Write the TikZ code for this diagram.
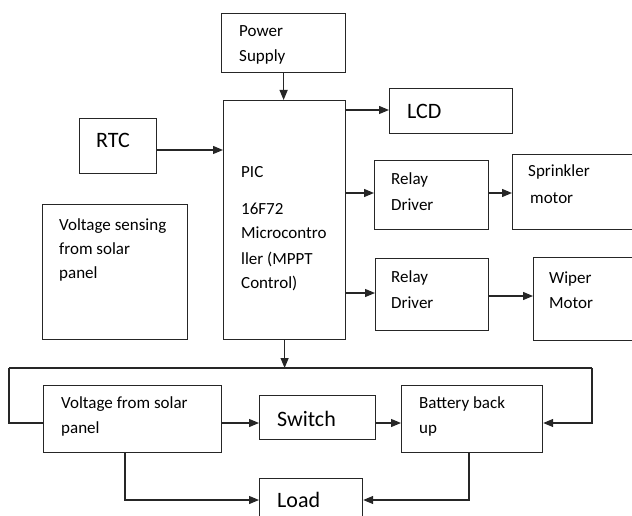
\documentclass[tikz,border=0pt]{standalone}
\usepackage{fontspec}
\setmainfont{Carlito}
\usetikzlibrary{arrows.meta}
\begin{document}
\begin{tikzpicture}[x=1pt,y=-1pt,
  box/.style={draw=black!85,line width=1.2pt,rectangle,inner sep=0pt,anchor=north west},
  small/.style={inner sep=0pt,anchor=base west,font=\fontsize{17}{20}\selectfont},
  big/.style={inner sep=0pt,anchor=base west,font=\fontsize{22}{26}\selectfont},
  arr/.style={line width=1.2pt,draw=black!85,-{Triangle[length=10pt,width=8pt]}},
  ln/.style={line width=1.2pt,draw=black!85}]
\useasboundingbox (0,0) rectangle (632,516);
\clip (0,0) rectangle (632,516);
% boxes
\node[box,minimum width=124pt,minimum height=59pt] (ps) at (221,13) {};
\node[box,minimum width=122pt,minimum height=239pt] (pic) at (223,100) {};
\node[box,minimum width=77pt,minimum height=55pt] (rtc) at (79,118) {};
\node[box,minimum width=145pt,minimum height=135pt] (vs) at (42,204) {};
\node[box,minimum width=123pt,minimum height=45pt] (lcd) at (389,88) {};
\node[box,minimum width=114pt,minimum height=69pt] (rd1) at (374,160) {};
\node[box,minimum width=140pt,minimum height=75pt] (spr) at (512,154) {};
\node[box,minimum width=113pt,minimum height=72pt] (rd2) at (375,258) {};
\node[box,minimum width=120pt,minimum height=83pt] (wip) at (533,257) {};
\node[box,minimum width=178pt,minimum height=67pt] (vfs) at (43,385) {};
\node[box,minimum width=116pt,minimum height=44pt] (sw) at (259,395) {};
\node[box,minimum width=141pt,minimum height=67pt] (bat) at (401,385) {};
\node[box,minimum width=103pt,minimum height=60pt] (load) at (259,478) {};
% texts
\node[small] (t1) at (239,37) {Power};
\node[small] (t2) at (239,62) {Supply};
\node[big] (t3) at (96,148) {RTC};
\node[small] (t4) at (241,178) {PIC};
\node[small] (t5) at (241,214) {16F72};
\node[small] (t6) at (241,238) {Microcontro};
\node[small] (t7) at (241,264) {ller (MPPT};
\node[small] (t8) at (241,288) {Control)};
\node[small] (t9) at (59,230) {Voltage sensing};
\node[small] (t10) at (59,254) {from solar};
\node[small] (t11) at (59,278) {panel};
\node[big] (t12) at (407,119) {LCD};
\node[small] (t13) at (391,184) {Relay};
\node[small] (t14) at (391,210) {Driver};
\node[small] (t15) at (528,177) {Sprinkler};
\node[small] (t16) at (530,203) {motor};
\node[small] (t17) at (391,282) {Relay};
\node[small] (t18) at (391,308) {Driver};
\node[small] (t19) at (549,283) {Wiper};
\node[small] (t20) at (549,308) {Motor};
\node[small] (t21) at (61,408) {Voltage from solar};
\node[small] (t22) at (61,433) {panel};
\node[big] (t23) at (277,426) {Switch};
\node[small] (t24) at (419,408) {Battery back};
\node[small] (t25) at (419,433) {up};
\node[big] (t26) at (277,507) {Load};
% bus coordinates
\coordinate (busL) at (9,368);
\coordinate (busR) at (592,368);
% connectors
\draw[arr] (ps.south) -- (ps.south |- pic.north);
\draw[arr] (rtc.east |- 0,150) -- (pic.west |- 0,150);
\draw[arr] (pic.east |- 0,110) -- (lcd.west |- 0,110);
\draw[arr] (pic.east |- 0,193) -- (rd1.west |- 0,193);
\draw[arr] (rd1.east |- 0,193) -- (spr.west |- 0,193);
\draw[arr] (pic.east |- 0,293) -- (rd2.west |- 0,293);
\draw[arr] (rd2.east |- 0,296) -- (wip.west |- 0,296);
\draw[arr] (pic.south) -- (pic.south |- busL);
\draw[ln] (busL) -- (busR);
\draw[arr] (busR) -- (busR |- 0,423) -- (bat.east |- 0,423);
\draw[ln] (busL) -- (busL |- 0,423) -- (vfs.west |- 0,423);
\draw[arr] (vfs.east |- 0,423) -- (sw.west |- 0,423);
\draw[arr] (sw.east |- 0,423) -- (bat.west |- 0,423);
\draw[arr] (vfs.south -| 125,0) -- (125,500) -- (load.west |- 0,500);
\draw[arr] (bat.south -| 469,0) -- (469,500) -- (load.east |- 0,500);
\end{tikzpicture}
\end{document}
